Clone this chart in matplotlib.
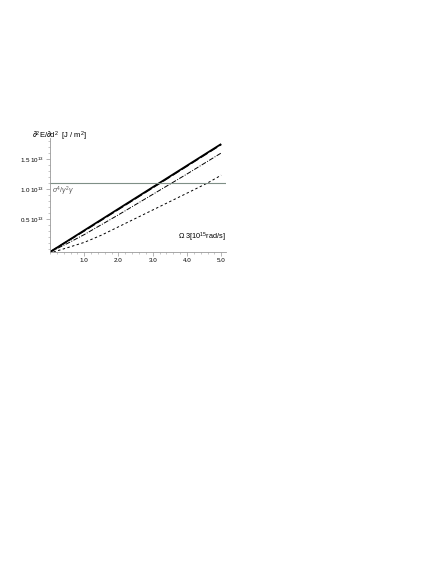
import numpy as np
import matplotlib.pyplot as plt
from matplotlib.ticker import MultipleLocator, FixedLocator

plt.rcParams['font.family'] = ['Liberation Sans', 'DejaVu Sans']
plt.rcParams['mathtext.fontset'] = 'custom'
plt.rcParams['mathtext.rm'] = 'Liberation Sans'
plt.rcParams['mathtext.it'] = 'Liberation Sans:italic'

# Data (x in 10^15 rad/s, y in 10^13 J/m^2)
x_solid = [0.0, 1.0, 2.0, 3.0, 4.0, 5.0]
y_solid = [-0.05, 0.31, 0.67, 1.03, 1.39, 1.75]

x_longdash = [0.0, 1.0, 2.0, 3.0, 4.0, 5.0]
y_longdash = [-0.05, 0.30, 0.66, 1.02, 1.38, 1.74]

x_dashdot = [0.0, 0.5, 1.0, 2.0, 3.0, 4.0, 5.0]
y_dashdot = [-0.05, 0.09, 0.24, 0.57, 0.91, 1.25, 1.60]

x_dashed = [0.1, 0.5, 1.0, 1.5, 2.0, 3.0, 4.0, 4.6, 5.0]
y_dashed = [-0.05, 0.02, 0.11, 0.23, 0.37, 0.65, 0.93, 1.10, 1.23]

threshold = 1.105

x_ticks = [1.0, 2.0, 3.0, 4.0, 5.0]
x_ticklabels = ['1.0', '2.0', '3.0', '4.0', '5.0']
y_ticks = [0.5, 1.0, 1.5]
y_ticklabels = [r'0.5 10$^{13}$', r'1.0 10$^{13}$', r'1.5 10$^{13}$']

fig = plt.figure(figsize=(4.36, 5.64), dpi=100)
ax = fig.add_axes([50 / 436, 312 / 564, 176 / 436, 114 / 564])

ax.plot(x_solid, y_solid, color='black', lw=1.3, solid_capstyle='butt')
ax.plot(x_longdash, y_longdash, color='black', lw=1.0, dashes=(6, 2))
ax.plot(x_dashdot, y_dashdot, color='black', lw=0.7, dashes=(5, 1.5, 1, 1.5))
ax.plot(x_dashed, y_dashed, color='black', lw=0.7, dashes=(2.5, 2.5))
ax.axhline(threshold, color='#7f8f86', lw=0.8)

ax.set_xlim(0.0, 5.14)
ax.set_ylim(-0.05, 1.85)

for side in ['top', 'right']:
    ax.spines[side].set_visible(False)
for side in ['left', 'bottom']:
    ax.spines[side].set_color('#999999')
    ax.spines[side].set_linewidth(0.6)

ax.xaxis.set_major_locator(FixedLocator(x_ticks))
ax.set_xticklabels(x_ticklabels)
ax.xaxis.set_minor_locator(MultipleLocator(0.2))
ax.yaxis.set_major_locator(FixedLocator(y_ticks))
ax.set_yticklabels(y_ticklabels)
ax.yaxis.set_minor_locator(MultipleLocator(0.1))

ax.tick_params(which='major', length=3, width=0.5, color='#999999', labelsize=4.5, pad=1.5)
ax.tick_params(which='minor', length=1.5, width=0.4, color='#999999')

ax.text(-0.1, 0.955, r'$\partial^2$E/$\partial$d$^2$  [J / m$^2$]',
        transform=ax.transAxes, fontsize=5.5, ha='left', va='bottom')
ax.text(1.0, 0.07, r'$\Omega$ 3[10$^{15}$rad/s]', transform=ax.transAxes,
        fontsize=5.3, ha='right', va='bottom')
ax.text(0.05, threshold - 0.04, r'$\sigma^4$/$\gamma^2\gamma$', fontsize=5,
        color='#555555', ha='left', va='top')

fig.savefig('out.png', dpi=100)
